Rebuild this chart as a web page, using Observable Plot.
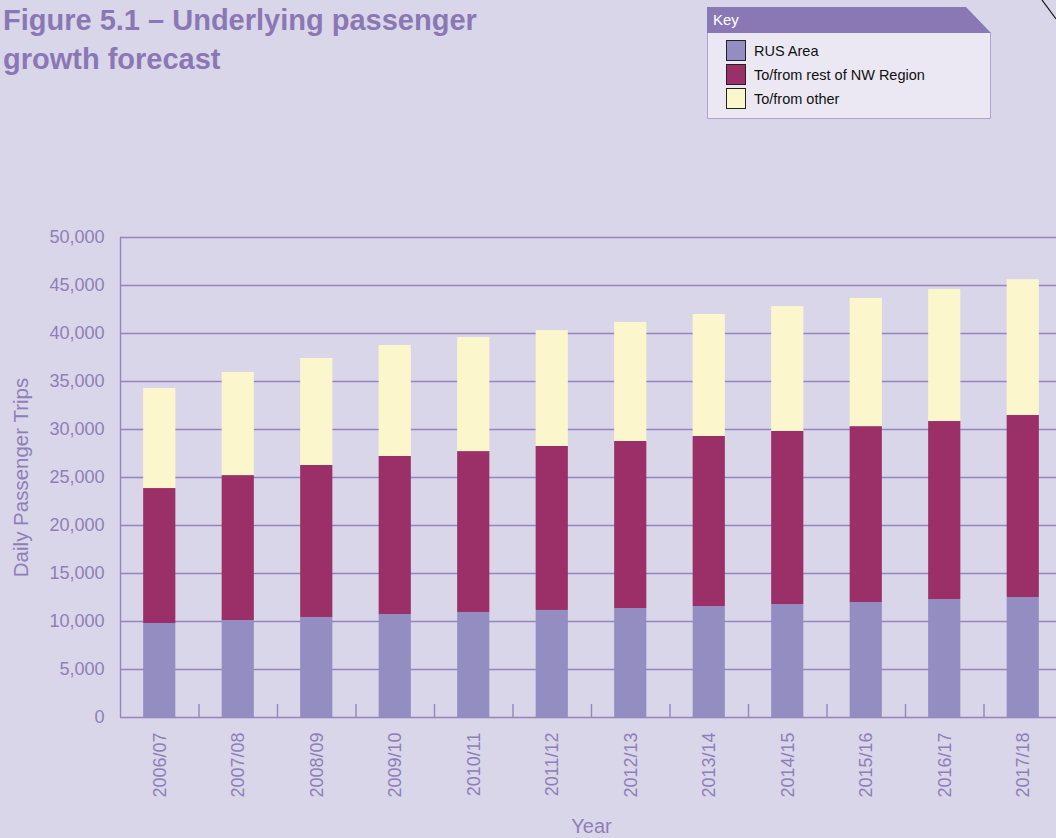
<!DOCTYPE html>
<html>
<head>
<meta charset="utf-8">
<script src="https://cdn.jsdelivr.net/npm/d3@7"></script>
<script src="https://cdn.jsdelivr.net/npm/@observablehq/plot@0.6"></script>
<style>
  html, body { margin: 0; padding: 0; background: #dad6e9; overflow: hidden; width: 1056px; height: 838px; }
  body { position: relative; font-family: "Liberation Sans", Arial, sans-serif; }
  #title { position: absolute; left: 3px; top: 1px; font-size: 29px; line-height: 39px; font-weight: bold; color: #8a78b5; }
  #key { position: absolute; left: 707px; top: 7px; width: 284px; }
  #key .head { height: 26px; background: #8a78b5; color: #fff; font-size: 15px; line-height: 26px; padding-left: 6px;
    clip-path: polygon(0 0, calc(100% - 25px) 0, 100% 100%, 0 100%); }
  #key .body { height: 85px; background: #ebe8f3; border: 1px solid #b0a5d2; border-top: none; position: relative; }
  #key .item { position: absolute; left: 18px; height: 21px; display: flex; align-items: center; font-size: 14.5px; color: #111; }
  #key .sw { width: 18px; height: 19px; border: 1px solid #222; margin-right: 8px; }
  #chart { position: absolute; left: 0; top: 200px; }
  #chart svg { max-width: none !important; }
  #corner { position: absolute; left: 0; top: 0; }
</style>
</head>
<body>
<div id="title">Figure 5.1 – Underlying passenger<br>growth forecast</div>
<div id="key"><div class="head">Key</div><div class="body" id="keybody"></div></div>
<svg id="corner" width="1056" height="30"><line x1="1042" y1="0" x2="1056" y2="19" stroke="#111" stroke-width="1.2"/></svg>
<div id="chart"></div>
<script>
const years = ["2006/07","2007/08","2008/09","2009/10","2010/11","2011/12","2012/13","2013/14","2014/15","2015/16","2016/17","2017/18"];
const rusArea = [9790, 10100, 10420, 10730, 10940, 11150, 11350, 11560, 11770, 11980, 12290, 12500];
const nwRegion = [14060, 15100, 15830, 16460, 16760, 17080, 17400, 17710, 18030, 18320, 18540, 18960];
const otherTrips = [10420, 10740, 11150, 11560, 11880, 12070, 12400, 12710, 13000, 13350, 13750, 14140];
const seriesNames = ["RUS Area", "To/from rest of NW Region", "To/from other"];
const seriesColors = ["#938dc2", "#9b2f68", "#fbf6cc"];
const yTicks = [0, 5000, 10000, 15000, 20000, 25000, 30000, 35000, 40000, 45000, 50000];

const seriesValues = [rusArea, nwRegion, otherTrips];
const rows = [];
seriesNames.forEach((s, si) => years.forEach((y, i) => rows.push({year: y, series: s, value: seriesValues[si][i]})));

// Key
const kb = document.getElementById("keybody");
seriesNames.forEach((s, i) => {
  const it = document.createElement("div");
  it.className = "item";
  it.style.top = (7 + i * 24) + "px";
  it.innerHTML = `<div class="sw" style="background:${seriesColors[i]}"></div><span>${s}</span>`;
  kb.appendChild(it);
});

const W = 1062, ML = 120;
const step = (W - ML) / years.length;
const axisColor = "#9385bd";

const chart = Plot.plot({
  width: W,
  height: 638,
  marginLeft: ML,
  marginRight: 0,
  marginTop: 37,
  marginBottom: 121,
  style: {background: "transparent", color: "#8d7fb8", fontFamily: "'Liberation Sans', Arial, sans-serif", fontSize: "18px", overflow: "visible", maxWidth: "none"},
  x: {domain: years, paddingInner: 0.59, paddingOuter: 0.295, round: false},
  y: {domain: [0, 50000]},
  color: {domain: seriesNames, range: seriesColors},
  marks: [
    Plot.ruleY(yTicks, {stroke: axisColor, strokeWidth: 1.4}),
    Plot.barY(rows, Plot.stackY({x: "year", y: "value", fill: "series", order: seriesNames})),
    Plot.ruleX(years.slice(1), {dx: -step / 2, y1: 0, y2: 1350, stroke: axisColor, strokeWidth: 1.4}),
    Plot.ruleX([years[0]], {dx: -step / 2, y1: 0, y2: 50000, stroke: axisColor, strokeWidth: 1.4}),
    Plot.axisY({ticks: yTicks, tickFormat: d3.format(","), tickSize: 0, tickPadding: 16, label: null, fontSize: 18}),
    Plot.axisY({ticks: [], label: "Daily Passenger Trips", labelAnchor: "center", labelOffset: 107, labelArrow: "none", fontSize: 20.5}),
    Plot.axisX({tickSize: 0, tickPadding: 15, tickRotate: -90, label: null, fontSize: 18}),
    Plot.axisX({ticks: [], label: "Year", labelAnchor: "center", labelOffset: 115, labelArrow: "none", fontSize: 20})
  ]
});
document.getElementById("chart").appendChild(chart);
</script>
</body>
</html>
